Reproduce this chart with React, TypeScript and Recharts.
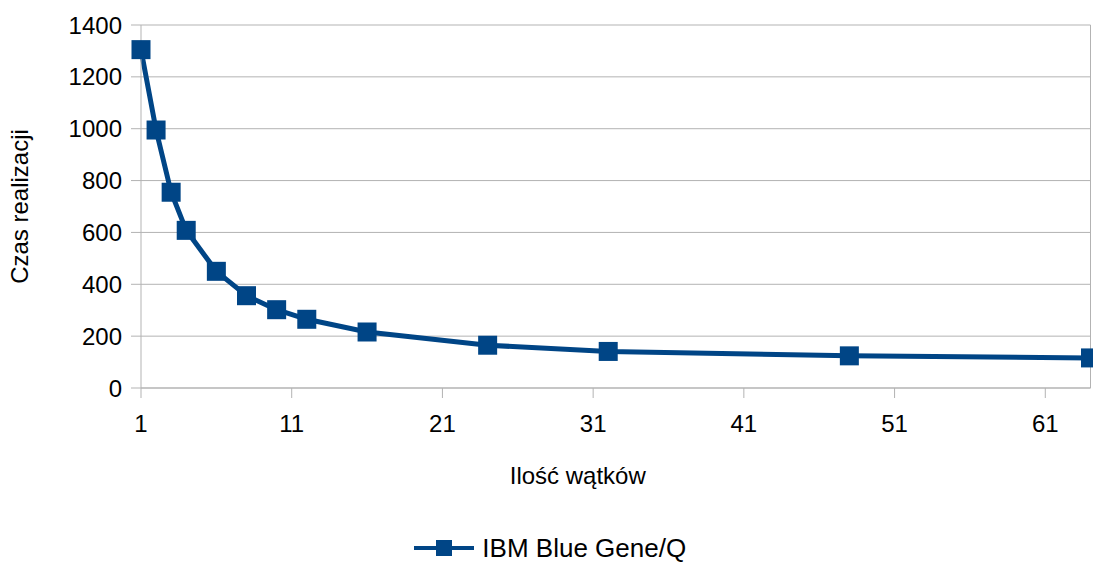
import React from 'react';
import {
  LineChart,
  Line,
  XAxis,
  YAxis,
  CartesianGrid,
  Legend,
  Label,
  ReferenceLine,
} from 'recharts';

const threads = [1, 2, 3, 4, 6, 8, 10, 12, 16, 24, 32, 48, 64];
const times = [1305, 995, 755, 608, 450, 356, 302, 265, 216, 165, 141, 124, 116];
const xTicks = [1, 11, 21, 31, 41, 51, 61];
const yTicks = [0, 200, 400, 600, 800, 1000, 1200, 1400];
const seriesName = 'IBM Blue Gene/Q';

const data = threads.map((t, i) => ({ threads: t, time: times[i] }));

const BLUE = '#004586';
const GRID = '#b3b3b3';
const FONT = '"Liberation Sans", Arial, sans-serif';

const SquareDot = (props: any) => {
  const { cx, cy, index } = props;
  if (cx == null || cy == null) return null;
  return <rect key={`dot-${index}`} x={cx - 9.5} y={cy - 9.5} width={19} height={19} fill={BLUE} />;
};

const YTitle = (props: any) => {
  const vb = props.viewBox || {};
  const x = (vb.x || 0) + 28;
  const y = (vb.y || 0) + (vb.height || 0) / 2;
  return (
    <text
      x={x}
      y={y}
      transform={`rotate(-90, ${x}, ${y})`}
      textAnchor="middle"
      fill="#000"
      fontSize={24}
      fontFamily={FONT}
    >
      Czas realizacji
    </text>
  );
};

// the x title sits a bit left of the plot centre in the original
const XTitle = (props: any) => {
  const vb = props.viewBox || {};
  const x = (vb.x || 0) + (vb.width || 0) / 2 - 38;
  const y = (vb.y || 0) + 96;
  return (
    <text x={x} y={y} textAnchor="middle" fill="#000" fontSize={24} fontFamily={FONT}>
      Ilość wątków
    </text>
  );
};

const LegendContent = () => (
  <div
    style={{
      height: 40,
      boxSizing: 'border-box',
      display: 'flex',
      justifyContent: 'center',
      alignItems: 'flex-start',
      paddingTop: 10,
      paddingLeft: 10,
      fontFamily: FONT,
    }}
  >
    <div style={{ display: 'flex', alignItems: 'center', height: 30 }}>
      <svg width={60} height={20} style={{ marginRight: 8 }}>
        <line x1={0} y1={10} x2={60} y2={10} stroke={BLUE} strokeWidth={4} />
        <rect x={22} y={2} width={16} height={16} fill={BLUE} />
      </svg>
      <span style={{ fontSize: 26, color: '#000', lineHeight: '30px', whiteSpace: 'nowrap' }}>
        {seriesName}
      </span>
    </div>
  </div>
);

const App: React.FC = () => {
  return (
    <div style={{ position: 'absolute', left: 0, top: 0, fontFamily: FONT }}>
      <LineChart
        width={1093}
        height={563}
        data={data}
        margin={{ top: 25, right: 2.5, left: 0, bottom: 0 }}
      >
        <CartesianGrid stroke={GRID} vertical={false} />
        <XAxis
          dataKey="threads"
          type="number"
          domain={[1, 64]}
          ticks={xTicks}
          interval={0}
          height={135}
          axisLine={{ stroke: GRID }}
          tickLine={{ stroke: GRID }}
          tickSize={10}
          tickMargin={17}
          tick={{ fill: '#000', fontSize: 24, fontFamily: FONT }}
        >
          <Label content={XTitle} />
        </XAxis>
        <YAxis
          type="number"
          domain={[0, 1400]}
          ticks={yTicks}
          interval={0}
          width={141}
          axisLine={{ stroke: GRID }}
          tickLine={{ stroke: GRID }}
          tickSize={10}
          tickMargin={9}
          tick={{ fill: '#000', fontSize: 24, fontFamily: FONT }}
        >
          <Label content={YTitle} />
        </YAxis>
        <ReferenceLine x={64} stroke={GRID} />
        <Legend verticalAlign="bottom" content={LegendContent} />
        <Line
          type="linear"
          dataKey="time"
          name={seriesName}
          stroke={BLUE}
          strokeWidth={5}
          dot={SquareDot}
          activeDot={false}
          isAnimationActive={false}
        />
      </LineChart>
    </div>
  );
};

export default App;
